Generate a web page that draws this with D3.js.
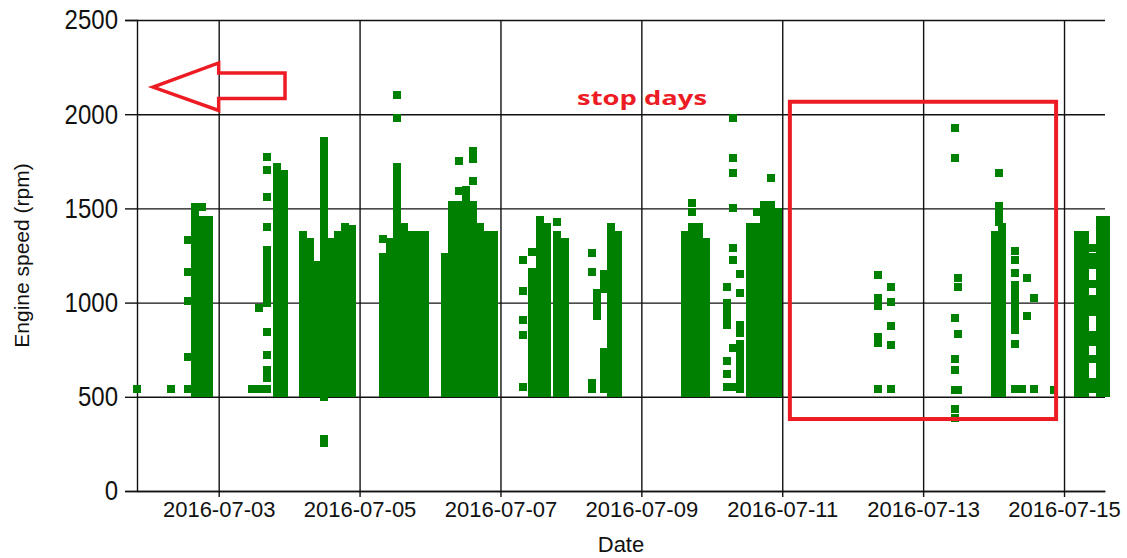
<!DOCTYPE html>
<html>
<head>
<meta charset="utf-8">
<script src="https://cdn.jsdelivr.net/npm/d3@7"></script>
<style>
  body { margin: 0; background: #fff; }
  svg { display: block; font-family: "Liberation Sans", Arial, sans-serif; }
</style>
</head>
<body>
<div id="chart"></div>
<script>
// sample time of each column of readings, hours after 2016-07-01 00:00
var sampleHours = [
    20.2, 31.8, 37.5, 39.9, 42.3, 44.7,
    59.3, 61.7, 64.5, 67.9, 70.25,
    76.7, 79.1, 81.5, 83.9, 86.3, 88.6, 91.0, 93.4,
    104.0, 106.4, 108.7, 111.1, 113.5, 115.9, 118.3,
    125.1, 127.5, 129.9, 132.3, 134.6, 137.0, 139.4, 141.8,
    151.7, 154.7, 157.5, 159.9, 163.3, 166.0,
    175.2, 176.9, 179.3, 181.7, 184.0,
    206.9, 209.3, 211.6, 214.0,
    221.2, 223.2, 225.6, 229.0, 231.4, 233.8, 236.2, 238.6,
    272.6, 277.1, 298.9, 299.9,
    312.5, 313.8, 314.9, 319.3, 321.7, 323.4, 325.7, 332.6,
    340.8, 343.2, 345.9, 348.3, 350.3
];

// engine speed readings (rpm) taken at each of those times
var sampleRpm = [
    [540],
    [540],
    [540, 710, 1010, 1160, 1330],
    [520,560,600,640,680,720,760,800,840,880,920,960,1000,1040,1080,1120,1160,1200,1240,1280,1320,1360,1400,1440,1480,1505],
    [520,560,600,640,680,720,760,800,840,880,920,960,1000,1040,1080,1120,1160,1200,1240,1280,1320,1360,1400,1440,1510],
    [520,560,600,640,680,720,760,800,840,880,920,960,1000,1040,1080,1120,1160,1200,1240,1280,1320,1360,1400,1440],

    [540],
    [540, 970],
    [540, 600, 640, 720, 845, 1000, 1040, 1080, 1120, 1160, 1200, 1240, 1280, 1400, 1560, 1705, 1775],
    [520,560,600,640,680,720,760,800,840,880,920,960,1000,1040,1080,1120,1160,1200,1240,1280,1320,1360,1400,1440,1480,1520,1560,1600,1640,1680,1720],
    [520,560,600,640,680,720,760,800,840,880,920,960,1000,1040,1080,1120,1160,1200,1240,1280,1320,1360,1400,1440,1480,1520,1560,1600,1640,1680],

    [520,560,600,640,680,720,760,800,840,880,920,960,1000,1040,1080,1120,1160,1200,1240,1280,1320,1360],
    [520,560,600,640,680,720,760,800,840,880,920,960,1000,1040,1080,1120,1160,1200,1240,1280,1320],
    [520,560,600,640,680,720,760,800,840,880,920,960,1000,1040,1080,1120,1160,1200],
    [255,275,500,540,580,620,660,700,740,780,820,860,900,940,980,1020,1060,1100,1140,1180,1220,1260,1300,1340,1380,1420,1460,1500,1540,1580,1620,1660,1700,1740,1780,1820,1860],
    [520,560,600,640,680,720,760,800,840,880,920,960,1000,1040,1080,1120,1160,1200,1240,1280,1320],
    [520,560,600,640,680,720,760,800,840,880,920,960,1000,1040,1080,1120,1160,1200,1240,1280,1320,1360],
    [520,560,600,640,680,720,760,800,840,880,920,960,1000,1040,1080,1120,1160,1200,1240,1280,1320,1360,1400],
    [520,560,600,640,680,720,760,800,840,880,920,960,1000,1040,1080,1120,1160,1200,1240,1280,1320,1360,1390],

    [520,560,600,640,680,720,760,800,840,880,920,960,1000,1040,1080,1120,1160,1200,1240,1340],
    [520,560,600,640,680,720,760,800,840,880,920,960,1000,1040,1080,1120,1160,1200,1240,1280,1320],
    [520,560,600,640,680,720,760,800,840,880,920,960,1000,1040,1080,1120,1160,1200,1240,1280,1320,1360,1400,1440,1480,1520,1560,1600,1640,1680,1720,1980,2100],
    [520,560,600,640,680,720,760,800,840,880,920,960,1000,1040,1080,1120,1160,1200,1240,1280,1320,1360,1400],
    [520,560,600,640,680,720,760,800,840,880,920,960,1000,1040,1080,1120,1160,1200,1240,1280,1320,1360],
    [520,560,600,640,680,720,760,800,840,880,920,960,1000,1040,1080,1120,1160,1200,1240,1280,1320,1360],
    [520,560,600,640,680,720,760,800,840,880,920,960,1000,1040,1080,1120,1160,1200,1240,1280,1320,1360],

    [520,560,600,640,680,720,760,800,840,880,920,960,1000,1040,1080,1120,1160,1200,1240],
    [520,560,600,640,680,720,760,800,840,880,920,960,1000,1040,1080,1120,1160,1200,1240,1280,1320,1360,1400,1440,1480,1520],
    [520,560,600,640,680,720,760,800,840,880,920,960,1000,1040,1080,1120,1160,1200,1240,1280,1320,1360,1400,1440,1480,1520,1590,1750],
    [520,560,600,640,680,720,760,800,840,880,920,960,1000,1040,1080,1120,1160,1200,1240,1280,1320,1360,1400,1440,1480,1520,1560,1600],
    [520,560,600,640,680,720,760,800,840,880,920,960,1000,1040,1080,1120,1160,1200,1240,1280,1320,1360,1400,1440,1480,1520,1645,1760,1805],
    [520,560,600,640,680,720,760,800,840,880,920,960,1000,1040,1080,1120,1160,1200,1240,1280,1320,1360,1400],
    [520,560,600,640,680,720,760,800,840,880,920,960,1000,1040,1080,1120,1160,1200,1240,1280,1320,1360],
    [520,560,600,640,680,720,760,800,840,880,920,960,1000,1040,1080,1120,1160,1200,1240,1280,1320,1360],

    [550, 830, 910, 1060, 1225],
    [520,560,600,640,680,720,760,800,840,880,920,960,1000,1040,1080,1120,1160,1270],
    [520,560,600,640,680,720,760,800,840,880,920,960,1000,1040,1080,1120,1160,1200,1240,1280,1320,1360,1400,1440],
    [520,560,600,640,680,720,760,800,840,880,920,960,1000,1040,1080,1120,1160,1200,1240,1280,1320,1360,1400],
    [520,560,600,640,680,720,760,800,840,880,920,960,1000,1040,1080,1120,1160,1200,1240,1280,1320,1360,1430],
    [520,560,600,640,680,720,760,800,840,880,920,960,1000,1040,1080,1120,1160,1200,1240,1280,1320],

    [540, 575, 1160, 1265],
    [930, 970, 1010, 1050],
    [540, 580, 620, 660, 700, 740, 1070, 1110, 1150],
    [520,560,600,640,680,720,760,800,840,880,920,960,1000,1040,1080,1120,1160,1200,1240,1280,1320,1360,1400],
    [520,560,600,640,680,720,760,800,840,880,920,960,1000,1040,1080,1120,1160,1200,1240,1280,1320,1360],

    [520,560,600,640,680,720,760,800,840,880,920,960,1000,1040,1080,1120,1160,1200,1240,1280,1320,1360],
    [520,560,600,640,680,720,760,800,840,880,920,960,1000,1040,1080,1120,1160,1200,1240,1280,1320,1360,1400,1480,1530],
    [520,560,600,640,680,720,760,800,840,880,920,960,1000,1040,1080,1120,1160,1200,1240,1280,1320,1360,1400],
    [520,560,600,640,680,720,760,800,840,880,920,960,1000,1040,1080,1120,1160,1200,1240,1280,1320],

    [550, 620, 690, 880, 920, 960, 1000, 1085],
    [550, 760, 1225, 1290, 1500, 1690, 1770, 1980],
    [540, 580, 620, 660, 700, 740, 780, 840, 880, 1050, 1150],
    [520,560,600,640,680,720,760,800,840,880,920,960,1000,1040,1080,1120,1160,1200,1240,1280,1320,1360,1400],
    [520,560,600,640,680,720,760,800,840,880,920,960,1000,1040,1080,1120,1160,1200,1240,1280,1320,1360,1400,1480],
    [520,560,600,640,680,720,760,800,840,880,920,960,1000,1040,1080,1120,1160,1200,1240,1280,1320,1360,1400,1440,1480,1520],
    [520,560,600,640,680,720,760,800,840,880,920,960,1000,1040,1080,1120,1160,1200,1240,1280,1320,1360,1400,1440,1480,1520,1660],
    [520,560,600,640,680,720,760,800,840,880,920,960,1000,1040,1080,1120,1160,1200,1240,1280,1320,1360,1400,1440,1480],

    [540, 785, 815, 980, 1025, 1145],
    [540, 775, 875, 1005, 1085],
    [385, 435, 535, 640, 700, 920, 1770, 1925],
    [535, 835, 1085, 1130],

    [520,560,600,640,680,720,760,800,840,880,920,960,1000,1040,1080,1120,1160,1200,1240,1280,1320,1360],
    [1430, 1470, 1515, 1690],
    [520,560,600,640,680,720,760,800,840,880,920,960,1000,1040,1080,1120,1160,1200,1240,1280,1320,1360,1400],
    [540, 780, 855, 890, 930, 970, 1010, 1050, 1095, 1155, 1225, 1275],
    [540],
    [930, 1130],
    [540, 1025],
    [535],

    [520,560,600,640,680,720,760,800,840,880,920,960,1000,1040,1080,1120,1160,1200,1240,1280,1320,1360],
    [520,560,600,640,680,720,760,800,840,880,920,960,1000,1040,1080,1120,1160,1200,1240,1280,1320,1360],
    [540, 580, 700, 790, 830, 950, 990, 1020, 1100, 1200, 1240, 1290],
    [520,560,600,640,680,720,760,800,840,880,920,960,1000,1040,1080,1120,1160,1200,1240,1280,1320,1360,1400,1440],
    [520,560,600,640,680,720,760,800,840,880,920,960,1000,1040,1080,1120,1160,1200,1240,1280,1320,1360,1400,1440]
];

var yTickValues = [0, 500, 1000, 1500, 2000, 2500];
var xTickLabels = ["2016-07-03", "2016-07-05", "2016-07-07", "2016-07-09",
                   "2016-07-11", "2016-07-13", "2016-07-15"];

// hand-drawn annotations, in hours / rpm
var stopBox = { fromHour: 242.6, toHour: 333.3, lowRpm: 382, highRpm: 2066 };
var arrowHours = [25.6, 48, 48, 70.6, 70.6, 48, 48];
var arrowRpm = [2144, 2272, 2219, 2219, 2083, 2083, 2020];
var noteLabel = { text: "stop days", hour: 170.1, rpm: 2049 };

var
    width = 1127,
    height = 558,
    margin = { top: 20, right: 22, bottom: 67, left: 137 },
    innerWidth = width - margin.left - margin.right,
    innerHeight = height - margin.top - margin.bottom;

var start = new Date(2016, 6, 1);
function atHour(h) { return new Date(start.getTime() + h * 3600 * 1000); }
var parseDay = d3.timeParse("%Y-%m-%d");

var points = [];
sampleHours.forEach(function (h, i) {
    sampleRpm[i].forEach(function (r) { points.push({ t: atHour(h), rpm: r }); });
});

var xScale = d3.scaleTime()
    .domain([atHour(20.17), atHour(349.96)])
    .range([0, innerWidth]);
var yScale = d3.scaleLinear()
    .domain([0, 2500])
    .range([innerHeight, 0]);

var svg = d3.select("#chart").append("svg")
    .attr("width", width)
    .attr("height", height);

var g = svg.append("g")
    .attr("transform", "translate(" + margin.left + "," + margin.top + ")");

// grid lines (no labels, just the lines)
g.append("g").attr("class", "grid")
    .call(d3.axisLeft(yScale).tickValues(yTickValues).tickSizeInner(-innerWidth).tickSizeOuter(0))
    .call(function (s) { s.select(".domain").remove(); s.selectAll("text").remove(); });

g.append("g").attr("class", "grid")
    .call(d3.axisBottom(xScale).tickValues(xTickLabels.map(parseDay)).tickSizeInner(innerHeight).tickSizeOuter(0))
    .call(function (s) { s.select(".domain").remove(); s.selectAll("text").remove(); });

// axes, tick marks stick out 12px (left) and 6px (bottom)
var yAxis = g.append("g").attr("class", "y axis")
    .call(d3.axisLeft(yScale).tickValues(yTickValues).tickSize(12).tickPadding(7)
        .tickFormat(d3.format("d")));

var xAxis = g.append("g").attr("class", "x axis")
    .attr("transform", "translate(0," + innerHeight + ")")
    .call(d3.axisBottom(xScale).tickValues(xTickLabels.map(parseDay)).tickSizeInner(6).tickSizeOuter(0)
        .tickPadding(4).tickFormat(d3.timeFormat("%Y-%m-%d")));

svg.selectAll(".grid line, .axis line, .axis .domain")
    .attr("stroke", "#111")
    .attr("stroke-width", 1.4);

yAxis.selectAll("text")
    .attr("fill", "#111")
    .style("font-size", "24px")
    .attr("transform", "scale(1,1.15)");

xAxis.selectAll("text")
    .attr("fill", "#111")
    .style("font-size", "22px");

// samples
g.append("g").selectAll("rect")
    .data(points)
    .enter().append("rect")
    .attr("x", function (d) { return xScale(d.t) - 4; })
    .attr("y", function (d) { return yScale(d.rpm) - 4; })
    .attr("width", 8)
    .attr("height", 8)
    .attr("fill", "#008000")
    .attr("shape-rendering", "crispEdges");

// axis titles
svg.append("text")
    .attr("x", margin.left + innerWidth / 2)
    .attr("y", 552)
    .attr("text-anchor", "middle")
    .attr("fill", "#111")
    .style("font-size", "22px")
    .text("Date");

svg.append("text")
    .attr("transform", "translate(29," + (margin.top + innerHeight / 2) + ") rotate(-90)")
    .attr("text-anchor", "middle")
    .attr("fill", "#111")
    .style("font-size", "21px")
    .text("Engine speed (rpm)");

// annotations
var red = "#ed1c24";

g.append("rect")
    .attr("x", xScale(atHour(stopBox.fromHour)))
    .attr("y", yScale(stopBox.highRpm))
    .attr("width", xScale(atHour(stopBox.toHour)) - xScale(atHour(stopBox.fromHour)))
    .attr("height", yScale(stopBox.lowRpm) - yScale(stopBox.highRpm))
    .attr("fill", "none")
    .attr("stroke", red)
    .attr("stroke-width", 4);

g.append("polygon")
    .attr("points", arrowHours.map(function (h, i) {
        return xScale(atHour(h)) + "," + yScale(arrowRpm[i]);
    }).join(" "))
    .attr("fill", "none")
    .attr("stroke", red)
    .attr("stroke-width", 3.5);

g.append("text")
    .attr("x", xScale(atHour(noteLabel.hour)))
    .attr("y", yScale(noteLabel.rpm))
    .attr("fill", red)
    .attr("textLength", 130)
    .attr("lengthAdjust", "spacingAndGlyphs")
    .style("font-family", "'Open Sans', sans-serif")
    .style("font-weight", "bold")
    .style("font-size", "20px")
    .text(noteLabel.text);
</script>
</body>
</html>
